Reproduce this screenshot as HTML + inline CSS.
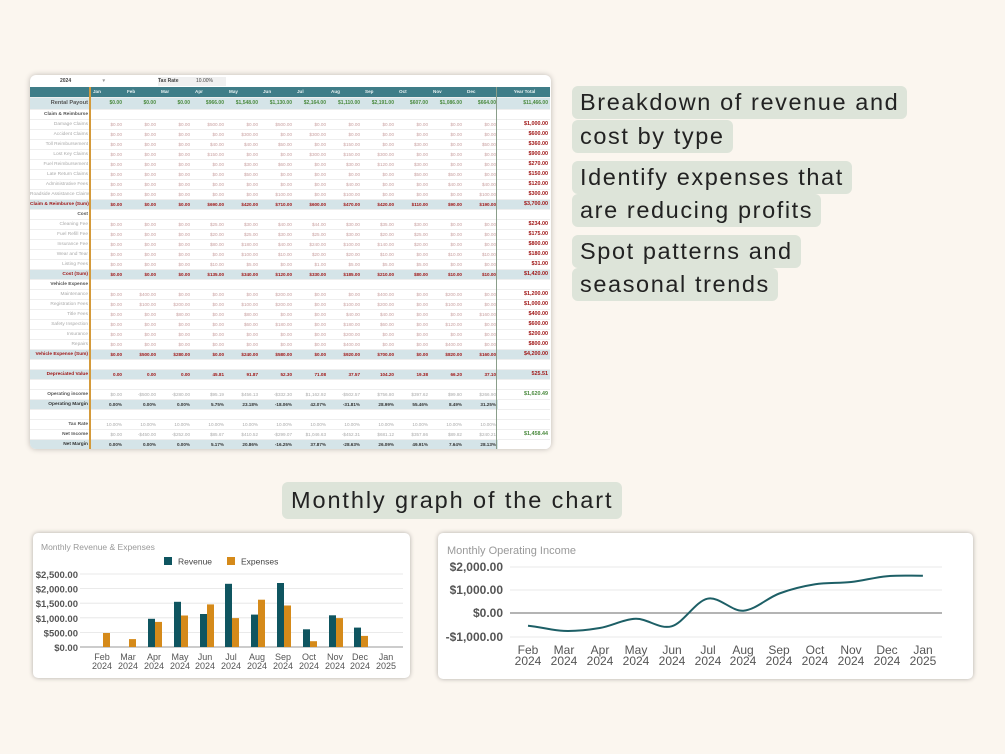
<!DOCTYPE html>
<html><head><meta charset="utf-8"><style>
*{margin:0;padding:0;box-sizing:border-box}
body{width:1005px;height:754px;background:#fbf6ef;position:relative;overflow:hidden;font-family:"Liberation Sans",sans-serif}
.sheet{position:absolute;left:30px;top:75px;width:521px;height:374px;background:#fff;border-radius:6px;box-shadow:0 0 6px rgba(0,0,0,.25);overflow:hidden}
table{border-collapse:collapse;table-layout:fixed;width:520px;position:absolute;left:0;top:12px}
td,th{font-size:4.6px;height:10px;text-align:right;padding-right:2px;white-space:nowrap;overflow:hidden;border-bottom:0.5px solid #eee}
th{font-weight:bold;color:#555;font-size:4.8px}
tr.v td{color:#c9a0a0}
tr.v th{color:#aaa;font-weight:normal}
tr.v td.t{color:#a01818;font-weight:bold;font-size:5.4px}
tr.s td,tr.s th{background:#d5e4e8;color:#a01818;font-weight:bold}
tr.s td.t{font-size:5.4px}
tr.h td,tr.h th{background:#3f7d88;color:#e9f2f3;font-weight:bold;text-align:left;padding-left:3px}
tr.h td.t{text-align:center}
tr.rp td,tr.rp th{background:#d5e4e8;color:#4a8a3e;font-weight:bold;height:12px;font-size:5px}
tr.rp th{color:#555;font-size:5.6px}
tr.g td{color:#aaa}
tr.g td.t{color:#4a8a3e;font-weight:bold;font-size:5.4px}
tr.m td,tr.m th{background:#d5e4e8;color:#333;font-weight:bold}
tr.b td,tr.b th{height:10px}
.vl1{position:absolute;left:59px;top:12px;width:1.5px;height:362px;background:#d49a3a}
.vl2{position:absolute;left:466px;top:12px;width:1px;height:362px;background:#8a9e8a}
.top{position:absolute;top:2px;font-size:5px;color:#444;font-weight:bold;height:9px;line-height:9px}
.note{position:absolute;background:#dde4d9;color:#222;font-size:23.5px;line-height:33px;padding:0 8px;border-radius:6px;letter-spacing:1.6px}
.card{position:absolute;background:#fff;border-radius:5px;box-shadow:0 0 5px rgba(0,0,0,.3)}
</style></head><body>
<div class="sheet">
<div class="top" style="left:30px;width:60px;background:#fff">2024 <span style="margin-left:30px;color:#999">▾</span></div>
<div class="top" style="left:94px;width:40px;border-right:1px solid #ddd"></div>
<div class="top" style="left:128px;width:38px;background:#f0f0f0">Tax Rate</div>
<div class="top" style="left:166px;width:30px;background:#f0f0f0;font-weight:normal">10.00%</div>
<table>
<colgroup><col style="width:60px"><col span="12" style="width:34px"><col style="width:52px"></colgroup>
<tr class="h"><th></th><td>Jan</td><td>Feb</td><td>Mar</td><td>Apr</td><td>May</td><td>Jun</td><td>Jul</td><td>Aug</td><td>Sep</td><td>Oct</td><td>Nov</td><td>Dec</td><td class="t">Year Total</td></tr>
<tr class="rp"><th>Rental Payout</th><td>$0.00</td><td>$0.00</td><td>$0.00</td><td>$966.00</td><td>$1,548.00</td><td>$1,130.00</td><td>$2,164.00</td><td>$1,110.00</td><td>$2,191.00</td><td>$607.00</td><td>$1,086.00</td><td>$664.00</td><td>$11,466.00</td></tr>
<tr><th>Claim &amp; Reimburse</th><td colspan="13"></td></tr>
<tr class="v"><th>Damage Claims</th><td>$0.00</td><td>$0.00</td><td>$0.00</td><td>$500.00</td><td>$0.00</td><td>$500.00</td><td>$0.00</td><td>$0.00</td><td>$0.00</td><td>$0.00</td><td>$0.00</td><td>$0.00</td><td class="t">$1,000.00</td></tr>
<tr class="v"><th>Accident Claims</th><td>$0.00</td><td>$0.00</td><td>$0.00</td><td>$0.00</td><td>$300.00</td><td>$0.00</td><td>$300.00</td><td>$0.00</td><td>$0.00</td><td>$0.00</td><td>$0.00</td><td>$0.00</td><td class="t">$600.00</td></tr>
<tr class="v"><th>Toll Reimbursement</th><td>$0.00</td><td>$0.00</td><td>$0.00</td><td>$40.00</td><td>$40.00</td><td>$50.00</td><td>$0.00</td><td>$150.00</td><td>$0.00</td><td>$30.00</td><td>$0.00</td><td>$50.00</td><td class="t">$360.00</td></tr>
<tr class="v"><th>Lost Key Claims</th><td>$0.00</td><td>$0.00</td><td>$0.00</td><td>$150.00</td><td>$0.00</td><td>$0.00</td><td>$300.00</td><td>$150.00</td><td>$300.00</td><td>$0.00</td><td>$0.00</td><td>$0.00</td><td class="t">$900.00</td></tr>
<tr class="v"><th>Fuel Reimbursement</th><td>$0.00</td><td>$0.00</td><td>$0.00</td><td>$0.00</td><td>$30.00</td><td>$60.00</td><td>$0.00</td><td>$30.00</td><td>$120.00</td><td>$30.00</td><td>$0.00</td><td>$0.00</td><td class="t">$270.00</td></tr>
<tr class="v"><th>Late Return Claims</th><td>$0.00</td><td>$0.00</td><td>$0.00</td><td>$0.00</td><td>$50.00</td><td>$0.00</td><td>$0.00</td><td>$0.00</td><td>$0.00</td><td>$50.00</td><td>$50.00</td><td>$0.00</td><td class="t">$150.00</td></tr>
<tr class="v"><th>Administrative Fees</th><td>$0.00</td><td>$0.00</td><td>$0.00</td><td>$0.00</td><td>$0.00</td><td>$0.00</td><td>$0.00</td><td>$40.00</td><td>$0.00</td><td>$0.00</td><td>$40.00</td><td>$40.00</td><td class="t">$120.00</td></tr>
<tr class="v"><th>Roadside Assistance Claims</th><td>$0.00</td><td>$0.00</td><td>$0.00</td><td>$0.00</td><td>$0.00</td><td>$100.00</td><td>$0.00</td><td>$100.00</td><td>$0.00</td><td>$0.00</td><td>$0.00</td><td>$100.00</td><td class="t">$300.00</td></tr>
<tr class="s"><th>Claim &amp; Reimburse (Sum)</th><td>$0.00</td><td>$0.00</td><td>$0.00</td><td>$690.00</td><td>$420.00</td><td>$710.00</td><td>$600.00</td><td>$470.00</td><td>$420.00</td><td>$110.00</td><td>$90.00</td><td>$190.00</td><td class="t">$3,700.00</td></tr>
<tr><th>Cost</th><td colspan="13"></td></tr>
<tr class="v"><th>Cleaning Fee</th><td>$0.00</td><td>$0.00</td><td>$0.00</td><td>$25.00</td><td>$30.00</td><td>$40.00</td><td>$44.00</td><td>$30.00</td><td>$35.00</td><td>$30.00</td><td>$0.00</td><td>$0.00</td><td class="t">$234.00</td></tr>
<tr class="v"><th>Fuel Refill Fee</th><td>$0.00</td><td>$0.00</td><td>$0.00</td><td>$20.00</td><td>$25.00</td><td>$30.00</td><td>$25.00</td><td>$30.00</td><td>$20.00</td><td>$25.00</td><td>$0.00</td><td>$0.00</td><td class="t">$175.00</td></tr>
<tr class="v"><th>Insurance Fee</th><td>$0.00</td><td>$0.00</td><td>$0.00</td><td>$80.00</td><td>$180.00</td><td>$40.00</td><td>$240.00</td><td>$100.00</td><td>$140.00</td><td>$20.00</td><td>$0.00</td><td>$0.00</td><td class="t">$800.00</td></tr>
<tr class="v"><th>Wear and Tear</th><td>$0.00</td><td>$0.00</td><td>$0.00</td><td>$0.00</td><td>$100.00</td><td>$10.00</td><td>$20.00</td><td>$20.00</td><td>$10.00</td><td>$0.00</td><td>$10.00</td><td>$10.00</td><td class="t">$180.00</td></tr>
<tr class="v"><th>Listing Fees</th><td>$0.00</td><td>$0.00</td><td>$0.00</td><td>$10.00</td><td>$5.00</td><td>$0.00</td><td>$1.00</td><td>$5.00</td><td>$5.00</td><td>$5.00</td><td>$0.00</td><td>$0.00</td><td class="t">$31.00</td></tr>
<tr class="s"><th>Cost (Sum)</th><td>$0.00</td><td>$0.00</td><td>$0.00</td><td>$135.00</td><td>$340.00</td><td>$120.00</td><td>$330.00</td><td>$185.00</td><td>$210.00</td><td>$80.00</td><td>$10.00</td><td>$10.00</td><td class="t">$1,420.00</td></tr>
<tr><th>Vehicle Expense</th><td colspan="13"></td></tr>
<tr class="v"><th>Maintenance</th><td>$0.00</td><td>$400.00</td><td>$0.00</td><td>$0.00</td><td>$0.00</td><td>$200.00</td><td>$0.00</td><td>$0.00</td><td>$400.00</td><td>$0.00</td><td>$200.00</td><td>$0.00</td><td class="t">$1,200.00</td></tr>
<tr class="v"><th>Registration Fees</th><td>$0.00</td><td>$100.00</td><td>$200.00</td><td>$0.00</td><td>$100.00</td><td>$200.00</td><td>$0.00</td><td>$100.00</td><td>$200.00</td><td>$0.00</td><td>$100.00</td><td>$0.00</td><td class="t">$1,000.00</td></tr>
<tr class="v"><th>Title Fees</th><td>$0.00</td><td>$0.00</td><td>$80.00</td><td>$0.00</td><td>$80.00</td><td>$0.00</td><td>$0.00</td><td>$40.00</td><td>$40.00</td><td>$0.00</td><td>$0.00</td><td>$160.00</td><td class="t">$400.00</td></tr>
<tr class="v"><th>Safety Inspection</th><td>$0.00</td><td>$0.00</td><td>$0.00</td><td>$0.00</td><td>$60.00</td><td>$180.00</td><td>$0.00</td><td>$180.00</td><td>$60.00</td><td>$0.00</td><td>$120.00</td><td>$0.00</td><td class="t">$600.00</td></tr>
<tr class="v"><th>Insurance</th><td>$0.00</td><td>$0.00</td><td>$0.00</td><td>$0.00</td><td>$0.00</td><td>$0.00</td><td>$0.00</td><td>$200.00</td><td>$0.00</td><td>$0.00</td><td>$0.00</td><td>$0.00</td><td class="t">$200.00</td></tr>
<tr class="v"><th>Repairs</th><td>$0.00</td><td>$0.00</td><td>$0.00</td><td>$0.00</td><td>$0.00</td><td>$0.00</td><td>$0.00</td><td>$400.00</td><td>$0.00</td><td>$0.00</td><td>$400.00</td><td>$0.00</td><td class="t">$800.00</td></tr>
<tr class="s"><th>Vehicle Expense (Sum)</th><td>$0.00</td><td>$500.00</td><td>$280.00</td><td>$0.00</td><td>$240.00</td><td>$580.00</td><td>$0.00</td><td>$920.00</td><td>$700.00</td><td>$0.00</td><td>$820.00</td><td>$160.00</td><td class="t">$4,200.00</td></tr>
<tr class="b"><th></th><td colspan="13"></td></tr>
<tr class="s"><th>Depreciated Value</th><td>0.00</td><td>0.00</td><td>0.00</td><td>45.81</td><td>91.87</td><td>52.30</td><td>71.08</td><td>37.57</td><td>104.20</td><td>19.38</td><td>66.20</td><td>37.10</td><td class="t">525.51</td></tr>
<tr class="b"><th></th><td colspan="13"></td></tr>
<tr class="g"><th>Operating income</th><td>$0.00</td><td>-$500.00</td><td>-$280.00</td><td>$95.19</td><td>$456.13</td><td>-$332.30</td><td>$1,162.92</td><td>-$502.57</td><td>$756.80</td><td>$397.62</td><td>$99.80</td><td>$266.90</td><td class="t">$1,620.49</td></tr>
<tr class="m"><th>Operating Margin</th><td>0.00%</td><td>0.00%</td><td>0.00%</td><td>5.75%</td><td>23.18%</td><td>-18.06%</td><td>42.07%</td><td>-31.81%</td><td>28.99%</td><td>55.46%</td><td>8.49%</td><td>31.25%</td><td style="background:#fff"></td></tr>
<tr class="b"><th></th><td colspan="13"></td></tr>
<tr class="g"><th>Tax Rate</th><td>10.00%</td><td>10.00%</td><td>10.00%</td><td>10.00%</td><td>10.00%</td><td>10.00%</td><td>10.00%</td><td>10.00%</td><td>10.00%</td><td>10.00%</td><td>10.00%</td><td>10.00%</td><td class="t"></td></tr>
<tr class="g"><th>Net Income</th><td>$0.00</td><td>-$450.00</td><td>-$252.00</td><td>$85.67</td><td>$410.52</td><td>-$299.07</td><td>$1,046.63</td><td>-$452.31</td><td>$681.12</td><td>$357.86</td><td>$89.82</td><td>$240.21</td><td class="t">$1,458.44</td></tr>
<tr class="m"><th>Net Margin</th><td>0.00%</td><td>0.00%</td><td>0.00%</td><td>5.17%</td><td>20.86%</td><td>-16.25%</td><td>37.87%</td><td>-28.63%</td><td>26.09%</td><td>49.91%</td><td>7.64%</td><td>28.13%</td><td style="background:#fff"></td></tr>
</table>
<div class="vl1"></div><div class="vl2"></div>
</div>

<div class="note" style="left:572px;top:86px">Breakdown of revenue and</div>
<div class="note" style="left:572px;top:120px">cost by type</div>
<div class="note" style="left:572px;top:161px">Identify expenses that</div>
<div class="note" style="left:572px;top:194px">are reducing profits</div>
<div class="note" style="left:572px;top:235px">Spot patterns and</div>
<div class="note" style="left:572px;top:268px">seasonal trends</div>
<div class="note" style="left:282px;top:482px;padding:0 9px;line-height:37px;letter-spacing:1.9px">Monthly graph of the chart</div>

<div class="card" style="left:33px;top:533px;width:377px;height:145px"></div>
<div class="card" style="left:438px;top:533px;width:535px;height:146px"></div>
<svg style="position:absolute;left:0;top:0" width="1005" height="754" font-family="Liberation Sans, sans-serif">
<text x="41" y="550" font-size="8.5" fill="#999">Monthly Revenue &amp; Expenses</text>
<rect x="164" y="557" width="8" height="8" fill="#0f5560"/><text x="178" y="564.5" font-size="8.5" fill="#444">Revenue</text>
<rect x="227" y="557" width="8" height="8" fill="#d58a1a"/><text x="241" y="564.5" font-size="8.5" fill="#444">Expenses</text>
<g stroke="#e3e3e3" stroke-width="0.8">
<line x1="80" x2="403" y1="574" y2="574"/><line x1="80" x2="403" y1="588.6" y2="588.6"/><line x1="80" x2="403" y1="603.2" y2="603.2"/><line x1="80" x2="403" y1="617.8" y2="617.8"/><line x1="80" x2="403" y1="632.4" y2="632.4"/></g>
<line x1="80" x2="403" y1="647" y2="647" stroke="#999" stroke-width="1"/>
<g font-size="9.5" fill="#555" text-anchor="end" font-weight="bold">
<text x="78" y="578">$2,500.00</text><text x="78" y="592.6">$2,000.00</text><text x="78" y="607.2">$1,500.00</text><text x="78" y="621.8">$1,000.00</text><text x="78" y="636.4">$500.00</text><text x="78" y="651">$0.00</text></g>
<g fill="#0f5560">
<rect x="148" y="618.8" width="7" height="28.2"/><rect x="174" y="601.8" width="7" height="45.2"/><rect x="200" y="614" width="7" height="33"/><rect x="225" y="583.8" width="7" height="63.2"/><rect x="251" y="614.6" width="7" height="32.4"/><rect x="277" y="583" width="7" height="64"/><rect x="303" y="629.3" width="7" height="17.7"/><rect x="329" y="615.3" width="7" height="31.7"/><rect x="354" y="627.6" width="7" height="19.4"/></g>
<g fill="#d58a1a">
<rect x="103" y="633" width="7" height="14"/><rect x="129" y="639.1" width="7" height="7.9"/><rect x="155" y="621.9" width="7" height="25.1"/><rect x="181" y="615.5" width="7" height="31.5"/><rect x="207" y="604.4" width="7" height="42.6"/><rect x="232" y="618.1" width="7" height="28.9"/><rect x="258" y="599.7" width="7" height="47.3"/><rect x="284" y="605.5" width="7" height="41.5"/><rect x="310" y="641.2" width="7" height="5.8"/><rect x="336" y="618.1" width="7" height="28.9"/><rect x="361" y="635.9" width="7" height="11.1"/></g>
<g font-size="9" fill="#555" text-anchor="middle">
<text x="102" y="660">Feb</text><text x="102" y="669">2024</text>
<text x="128" y="660">Mar</text><text x="128" y="669">2024</text>
<text x="154" y="660">Apr</text><text x="154" y="669">2024</text>
<text x="180" y="660">May</text><text x="180" y="669">2024</text>
<text x="205" y="660">Jun</text><text x="205" y="669">2024</text>
<text x="231" y="660">Jul</text><text x="231" y="669">2024</text>
<text x="257" y="660">Aug</text><text x="257" y="669">2024</text>
<text x="283" y="660">Sep</text><text x="283" y="669">2024</text>
<text x="309" y="660">Oct</text><text x="309" y="669">2024</text>
<text x="335" y="660">Nov</text><text x="335" y="669">2024</text>
<text x="360" y="660">Dec</text><text x="360" y="669">2024</text>
<text x="386" y="660">Jan</text><text x="386" y="669">2025</text></g>

<text x="447" y="554" font-size="11" fill="#999">Monthly Operating Income</text>
<g stroke="#e3e3e3" stroke-width="0.8"><line x1="510" x2="942" y1="567" y2="567"/><line x1="510" x2="942" y1="590" y2="590"/><line x1="510" x2="942" y1="637" y2="637"/></g>
<line x1="510" x2="942" y1="613" y2="613" stroke="#888" stroke-width="1.2"/>
<g font-size="12" fill="#555" text-anchor="end" font-weight="bold">
<text x="503" y="571">$2,000.00</text><text x="503" y="594">$1,000.00</text><text x="503" y="617">$0.00</text><text x="503" y="641">-$1,000.00</text></g>
<path d="M528,625.7 C540,626.6 552,630.5 563.9,630.9 C575.9,631.3 587.8,630 599.8,628 C611.8,626 623.7,619.1 635.7,618.8 C647.7,618.5 659.6,629.7 671.6,626.3 C683.6,622.9 695.5,601.3 707.5,598.7 C719.5,596.1 731.4,611.6 743.4,610.7 C755.4,609.8 767.3,597.9 779.3,593.5 C791.3,589.1 803.2,586.2 815.2,584.3 C827.2,582.4 839.1,583.4 851.1,582 C863.1,580.6 875,577.3 887,576.2 C899,575.1 910.9,575.8 922.9,575.7" fill="none" stroke="#1d5f66" stroke-width="2"/>
<g font-size="12" fill="#555" text-anchor="middle">
<text x="528" y="654">Feb</text><text x="528" y="665">2024</text>
<text x="564" y="654">Mar</text><text x="564" y="665">2024</text>
<text x="600" y="654">Apr</text><text x="600" y="665">2024</text>
<text x="636" y="654">May</text><text x="636" y="665">2024</text>
<text x="672" y="654">Jun</text><text x="672" y="665">2024</text>
<text x="708" y="654">Jul</text><text x="708" y="665">2024</text>
<text x="743" y="654">Aug</text><text x="743" y="665">2024</text>
<text x="779" y="654">Sep</text><text x="779" y="665">2024</text>
<text x="815" y="654">Oct</text><text x="815" y="665">2024</text>
<text x="851" y="654">Nov</text><text x="851" y="665">2024</text>
<text x="887" y="654">Dec</text><text x="887" y="665">2024</text>
<text x="923" y="654">Jan</text><text x="923" y="665">2025</text></g>
</svg>
</body></html>
